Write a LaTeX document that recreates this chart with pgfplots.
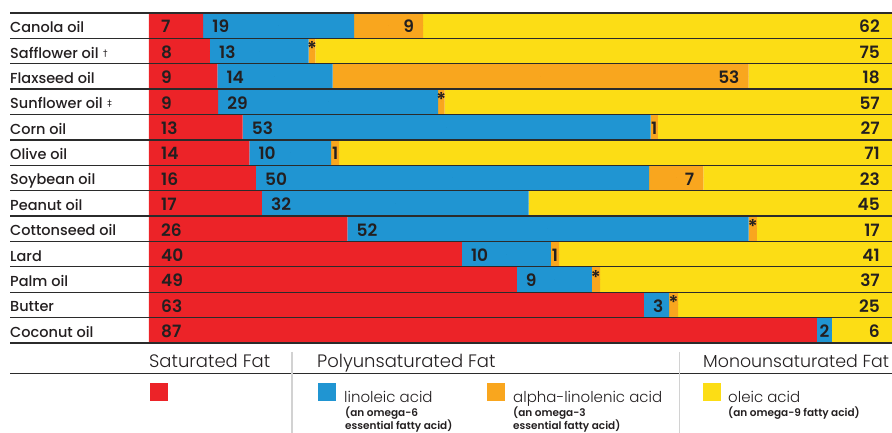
\documentclass[border=0pt]{standalone}
\usepackage{fontspec}
\setmainfont{Poppins}
\newfontfamily\plight{Poppins Light}
\newfontfamily\pmed{Poppins Medium}
\newfontfamily\psemi{Poppins SemiBold}
\newfontfamily\dvs{DejaVu Sans}
\usepackage{pgfplots}
\usepackage{pgfplotstable}
\pgfplotsset{compat=1.18}

\definecolor{satred}{HTML}{EC2328}
\definecolor{linblue}{HTML}{2095D2}
\definecolor{alaorange}{HTML}{F9A61E}
\definecolor{oleyellow}{HTML}{FCDD15}
\definecolor{ink}{HTML}{231F20}
\definecolor{rulec}{HTML}{2B2B2B}
\definecolor{sepc}{HTML}{D2D2D2}

\protected\def\dg{\hspace{4.5pt}{\dvs\fontsize{9}{9}\selectfont\raisebox{2pt}{†}}}
\protected\def\ddg{\hspace{4.5pt}{\dvs\fontsize{9}{9}\selectfont\raisebox{2pt}{‡}}}
\protected\def\st{\raisebox{2.5pt}{\fontsize{19}{19}\selectfont*}}
\protected\def\e{}

% segment widths in % of the bar (as drawn), then the printed labels
\pgfplotstableread{
y name                 sat  lin  ala  ole  lsat llin lblc lala ltr   lole
0  {Canola oil}        7.3  20.3 9.3  63.1 7    19   {\e} 9    {\e}  62
1  {Safflower oil\dg}  8.2  13.3 0.9  77.6 8    13   {\e} {\e} {\st} 75
2  {Flaxseed oil}      9.2  15.5 56.0 19.3 9    14   {\e} 53   {\e}  18
3  {Sunflower oil\ddg} 9.3  29.6 0.9  60.2 9    29   {\e} {\e} {\st} 57
4  {Corn oil}          12.6 54.9 1.0  31.5 13   53   {\e} {\e} 1     27
5  {Olive oil}         13.5 11.0 1.1  74.4 14   10   {\e} {\e} 1     71
6  {Soybean oil}       14.4 52.9 7.3  25.4 16   50   {\e} 7    {\e}  23
7  {Peanut oil}        15.2 35.9 0    48.9 17   32   {\e} {\e} {\e}  45
8  {Cottonseed oil}    26.7 54.0 1.1  18.2 26   52   {\e} {\e} {\st} 17
9  {Lard}              42.1 12.0 1.1  44.8 40   10   {\e} {\e} 1     41
10 {Palm oil}          49.5 10.1 1.1  39.3 49   9    {\e} {\e} {\st} 37
11 {Butter}            66.6 3.4  1.2  28.8 63   3    {\e} {\e} {\st} 25
12 {Coconut oil}       89.9 2.0  0    8.1  87   {\e} 2    {\e} {\e}  6
}\oils

\pgfplotsset{
  oilaxis/.style={
    at={(149pt,90pt)}, anchor=south west,
    width=743pt, height=330pt, scale only axis,
    xmin=0, xmax=100, ymin=-0.5, ymax=12.5, y dir=reverse,
    axis line style={draw=none}, tick style={draw=none},
    xtick=\empty, clip=false,
  },
  lbl/.style={
    only marks, mark=*, mark size=0pt, mark options={draw=none, fill=none},
    nodes near coords, point meta=explicit symbolic,
    every node near coord/.append style={
      font=\psemi\fontsize{17}{17}\selectfont, text=ink, inner sep=0pt,
      yshift=-7.3pt},
  },
}

\begin{document}
\begin{tikzpicture}
\begin{axis}[oilaxis,
    xbar stacked, bar width=1,
    ytick={0,...,12},
    yticklabels from table={\oils}{name},
    yticklabel style={anchor=base west, xshift=-139pt, yshift=-7pt,
      inner sep=0pt, font=\pmed\fontsize{14.5}{16}\selectfont, text=ink},
  ]
  \addplot[fill=satred, draw=none] table[x=sat, y=y] {\oils};
  \addplot[fill=linblue, draw=none] table[x=lin, y=y] {\oils};
  \addplot[fill=alaorange, draw=none] table[x=ala, y=y] {\oils};
  \addplot[fill=oleyellow, draw=none] table[x=ole, y=y] {\oils};
\end{axis}

\begin{axis}[oilaxis, hide axis]
  \addplot[lbl, nodes near coords style={anchor=base west, xshift=12pt}]
    table[x expr=0, y=y, meta=lsat] {\oils};
  \addplot[lbl, nodes near coords style={anchor=base west, xshift=9pt}]
    table[x=sat, y=y, meta=llin] {\oils};
  \addplot[lbl, nodes near coords style={anchor=base}]
    table[x expr=\thisrow{sat}+\thisrow{lin}/2, y=y, meta=lblc] {\oils};
  \addplot[lbl, nodes near coords style={anchor=base east, xshift=-9pt}]
    table[x expr=\thisrow{sat}+\thisrow{lin}+\thisrow{ala}, y=y, meta=lala] {\oils};
  \addplot[lbl, nodes near coords style={anchor=base}]
    table[x expr=\thisrow{sat}+\thisrow{lin}+\thisrow{ala}/2, y=y, meta=ltr] {\oils};
  \addplot[lbl, nodes near coords style={anchor=base east, xshift=-12pt}]
    table[x expr=100, y=y, meta=lole] {\oils};
\end{axis}

% row rules
\foreach \k in {0,...,13}
  \draw[rulec, line width=1.3pt] (10pt,{420pt-25.3846pt*\k}) -- (892pt,{420pt-25.3846pt*\k});

% key
\begin{scope}[every node/.style={inner sep=0pt, anchor=base west, text=ink}]
  \node[font=\plight\fontsize{18}{18}\selectfont] at (149pt,65pt) {Saturated Fat};
  \node[font=\plight\fontsize{18}{18}\selectfont] at (317pt,65pt) {Polyunsaturated Fat};
  \node[font=\plight\fontsize{17.4}{18}\selectfont] at (703pt,65pt) {Monounsaturated Fat};
  \draw[rulec, line width=0.9pt] (10pt,59.3pt) -- (892pt,59.3pt);
  \draw[sepc, line width=1.5pt] (292pt,81pt) -- (292pt,0pt);
  \draw[sepc, line width=1.5pt] (679.5pt,81pt) -- (679.5pt,0pt);
  \fill[satred] (150pt,32pt) rectangle (168pt,50pt);
  \fill[linblue] (318pt,32pt) rectangle (336pt,50pt);
  \fill[alaorange] (487pt,32pt) rectangle (505pt,50pt);
  \fill[oleyellow] (703pt,32pt) rectangle (721pt,50pt);
  \node[font=\plight\fontsize{15}{15}\selectfont] at (344pt,30.3pt) {linoleic acid};
  \node[font=\plight\fontsize{15}{15}\selectfont] at (513pt,30.3pt) {alpha-linolenic acid};
  \node[font=\plight\fontsize{15}{15}\selectfont] at (728pt,30.3pt) {oleic acid};
  \node[font=\psemi\fontsize{10.5}{10.5}\selectfont] at (345pt,16.7pt) {(an omega-6};
  \node[font=\psemi\fontsize{10.5}{10.5}\selectfont] at (345pt,3.5pt) {essential fatty acid)};
  \node[font=\psemi\fontsize{10.5}{10.5}\selectfont] at (513pt,16.7pt) {(an omega-3};
  \node[font=\psemi\fontsize{10.5}{10.5}\selectfont] at (513pt,3.5pt) {essential fatty acid)};
  \node[font=\psemi\fontsize{10.5}{10.5}\selectfont] at (728pt,16.7pt) {(an omega-9 fatty acid)};
\end{scope}

\pgfresetboundingbox
\path[use as bounding box] (0pt,0pt) rectangle (892pt,433pt);
\end{tikzpicture}
\end{document}
